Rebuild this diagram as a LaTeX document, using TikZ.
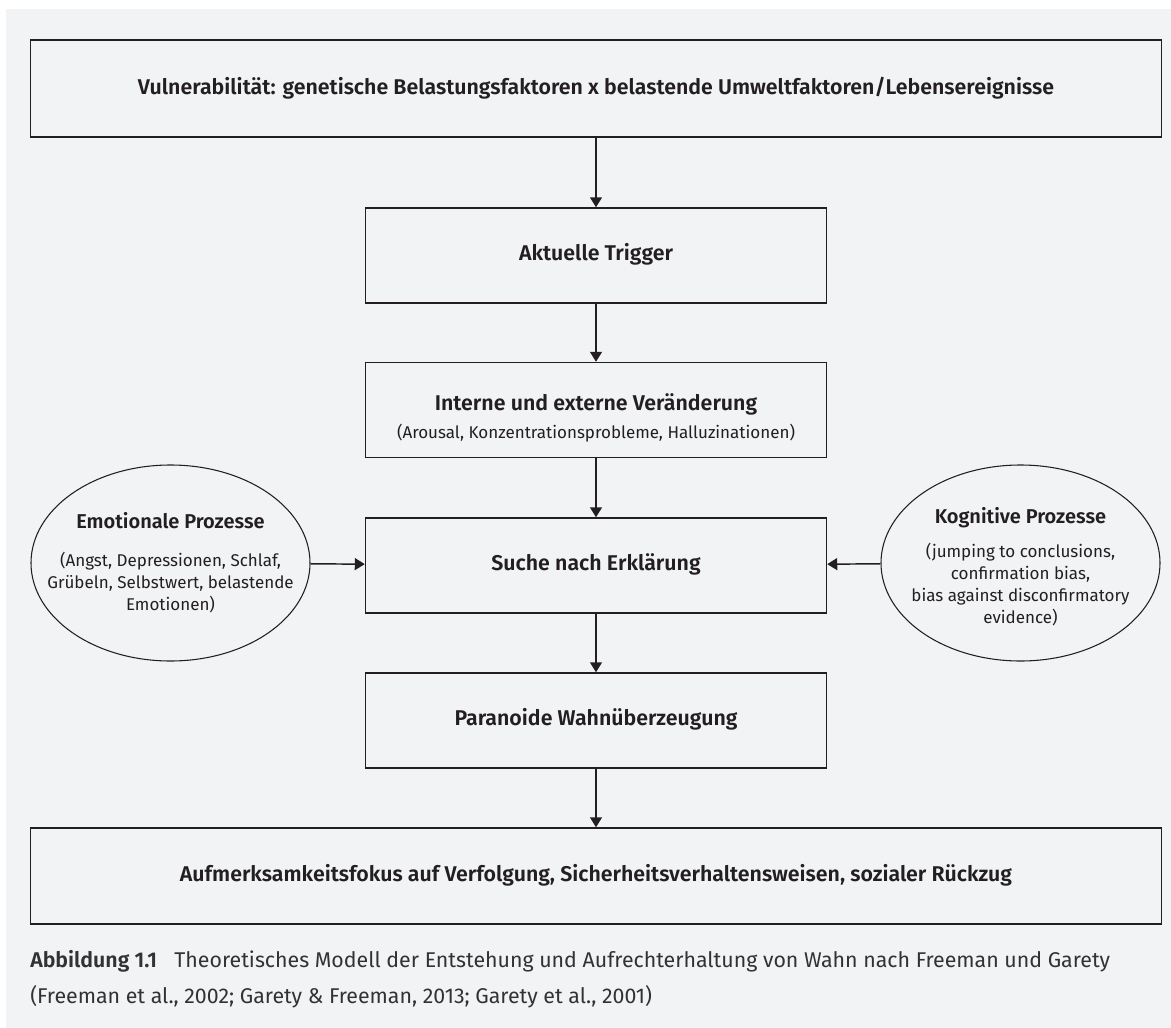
\documentclass[tikz,border=0pt]{standalone}
\usepackage{fontspec}
\setmainfont{Fira Sans}[BoldFont={Fira Sans SemiBold}]
\usetikzlibrary{shapes.geometric,arrows.meta}
\definecolor{ink}{RGB}{35,31,32}
\definecolor{capink}{RGB}{50,50,52}
\definecolor{paper}{RGB}{242,243,245}

\begin{document}
\begin{tikzpicture}[x=0.75pt,y=-0.75pt,
    >={Triangle[width=9pt,length=7.5pt]},
    box/.style={rectangle, draw=ink, line width=1.1pt, minimum width=345.75pt, minimum height=71.25pt, align=center, text=ink, font=\fontsize{16}{20}\selectfont\bfseries},
    widebox/.style={box, minimum width=848.25pt, minimum height=72.75pt},
    boxtext/.style={align=center, text=ink, font=\fontsize{16}{20}\selectfont\bfseries},
    oval/.style={ellipse, draw=ink, line width=0.8pt, minimum width=209.25pt, minimum height=147pt, inner sep=0pt},
    ovaltext/.style={align=center, text=ink, font=\fontsize{12.75}{16.5}\selectfont},
    arrow/.style={->, draw=ink, line width=1.1pt}]

    % Page and grey panel
    \useasboundingbox (0,0) rectangle (1171,1028);
    \fill[paper] (6,9) rectangle (1171,1028);

    % Vulnerability
    \node[widebox] (vuln) at (596,88.5) {Vulnerabilität: genetische Belastungsfaktoren x belastende Umweltfaktoren/Lebensereignisse};

    % Main chain
    \node[box] (trigger) at (596,255.5) {\strut Aktuelle Trigger};
    \node[box] (change) at (596,410) {};
    \node[boxtext] (changetext) at (596,418) {Interne und externe Veränderung\\[0.5pt]
        {\fontsize{12.75}{15}\selectfont\mdseries (Arousal, Konzentrationsprobleme, Halluzinationen)}};
    \node[box] (search) at (596,565.5) {\strut Suche nach Erklärung};
    \node[box] (delusion) at (596,720.5) {\strut Paranoide Wahnüberzeugung};

    % Consequences
    \node[widebox, minimum height=72pt] (focus) at (596,876) {\strut Aufmerksamkeitsfokus auf Verfolgung, Sicherheitsverhaltensweisen, sozialer Rückzug};

    % Side processes
    \node[oval] (emo) at (170.5,563) {};
    \node[ovaltext] (emotext) at (emo) {{\fontsize{15}{16.5}\selectfont\bfseries Emotionale Prozesse}\\[12pt]
        (Angst, Depressionen, Schlaf,\\ Grübeln, Selbstwert, belastende\\ Emotionen)};
    \node[oval] (cog) at (1020.5,563) {};
    \node[ovaltext] (cogtext) at (1020.5,567) {{\fontsize{15}{16.5}\selectfont\bfseries Kognitive Prozesse}\\[9pt]
        (jumping to conclusions,\\ confirmation bias,\\ bias against disconfirmatory\\ evidence)};

    % Caption
    \node[anchor=base west, align=left, inner sep=0pt, text=capink, font=\fontsize{16}{27}\selectfont] (caption) at (30,1003.5)
        {\textbf{Abbildung 1.1}\hspace{0.55em} Theoretisches Modell der Entstehung und Aufrechterhaltung von Wahn nach Freeman und Garety\\
        (Freeman et al., 2002; Garety \& Freeman, 2013; Garety et al., 2001)};

    % Arrows
    \draw[arrow] (vuln) -- (trigger);
    \draw[arrow] (trigger) -- (change);
    \draw[arrow] (change) -- (search);
    \draw[arrow] (search) -- (delusion);
    \draw[arrow] (delusion) -- (focus);
    \draw[arrow] (emo) -- (search);
    \draw[arrow] (cog) -- (search);
\end{tikzpicture}
\end{document}
